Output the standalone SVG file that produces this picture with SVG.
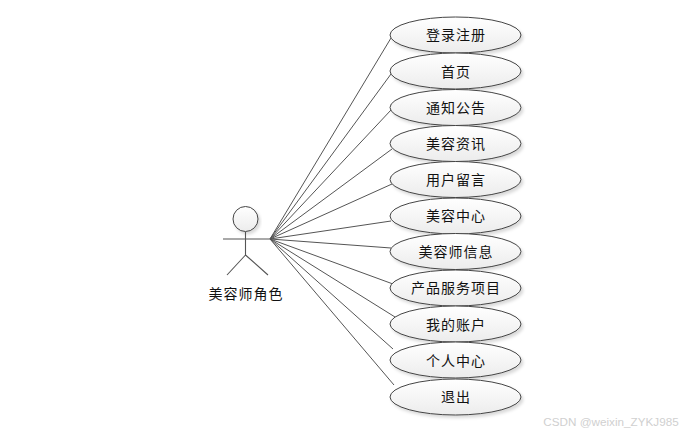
<svg xmlns="http://www.w3.org/2000/svg" width="689" height="435" viewBox="0 0 689 435">
<style>
.u{fill:url(#g);stroke:#444;stroke-width:1;filter:url(#s)}
.l{fill:none;stroke:#555;stroke-width:1}
.a{fill:none;stroke:#555;stroke-width:1.1}
text{font-family:"Noto Sans CJK SC","Liberation Sans",sans-serif;font-size:14px;fill:#111;text-anchor:middle;letter-spacing:1px}
</style>
<defs>
<linearGradient id="g" x1="0" y1="0" x2="0" y2="1"><stop offset="0" stop-color="#fff"/><stop offset="1" stop-color="#ececec"/></linearGradient>
<filter id="s" x="-10%" y="-20%" width="125%" height="150%"><feDropShadow dx="2" dy="2.500" stdDeviation="1.500" flood-color="#000" flood-opacity="0.15"/></filter>
</defs>
<rect width="689" height="435" fill="#fff"/>
<g id="connectors">
<path class="l" d="M270 239L391 38M270 239L391 74M270 239L391 110M270 239L392 149M270 239L392 184M270 239L391 221M270 239L391 248M270 239L393 284M270 239L395 317M270 239L393 349M270 239L394 385"/>
</g>
<g id="actor">
<circle class="u" cx="245.500" cy="219" r="12.500"/>
<path class="a" d="M223 239H270M245.500 232V255M245.500 255L227 275M245.500 255L268 275"/>
<text x="246" y="299">美容师角色</text>
</g>
<g id="n1"><ellipse class="u" cx="455.500" cy="35" rx="65.500" ry="18"/><text x="456" y="40">登录注册</text></g>
<g id="n2"><ellipse class="u" cx="455.500" cy="71" rx="65.500" ry="18"/><text x="456" y="77">首页</text></g>
<g id="n3"><ellipse class="u" cx="455.500" cy="107.500" rx="65.500" ry="18"/><text x="456" y="113">通知公告</text></g>
<g id="n4"><ellipse class="u" cx="455.500" cy="143.500" rx="65.500" ry="18"/><text x="456" y="149">美容资讯</text></g>
<g id="n5"><ellipse class="u" cx="455.500" cy="179.500" rx="65.500" ry="18"/><text x="456" y="185">用户留言</text></g>
<g id="n6"><ellipse class="u" cx="455.500" cy="216" rx="65.500" ry="18"/><text x="456" y="221">美容中心</text></g>
<g id="n7"><ellipse class="u" cx="455.500" cy="251.500" rx="65.500" ry="18"/><text x="456" y="257">美容师信息</text></g>
<g id="n8"><ellipse class="u" cx="455.500" cy="288" rx="65.500" ry="18"/><text x="456" y="293">产品服务项目</text></g>
<g id="n9"><ellipse class="u" cx="455.500" cy="324" rx="65.500" ry="18"/><text x="456" y="330">我的账户</text></g>
<g id="n10"><ellipse class="u" cx="455.500" cy="360" rx="65.500" ry="18"/><text x="456" y="366">个人中心</text></g>
<g id="n11"><ellipse class="u" cx="455.500" cy="397" rx="65.500" ry="18"/><text x="456" y="402">退出</text></g>
<text x="611" y="426" style="font-family:'Liberation Sans',sans-serif;font-size:11.700px;fill:#d0d0d0;letter-spacing:0">CSDN @weixin_ZYKJ985</text>
</svg>
